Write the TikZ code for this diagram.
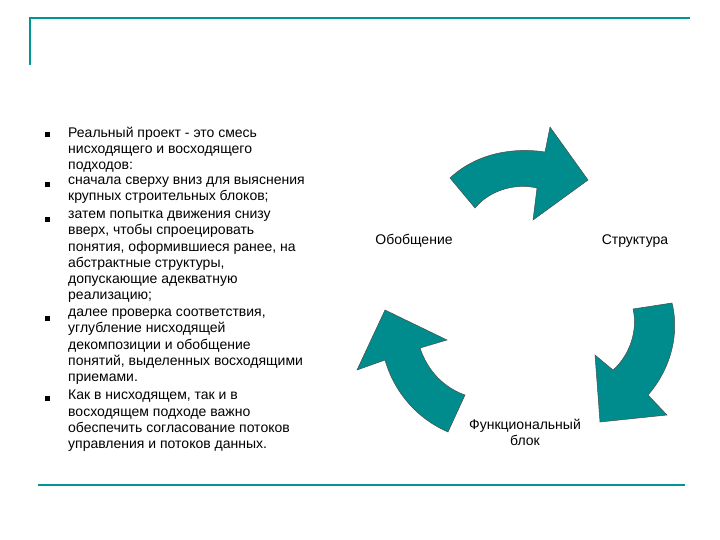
\documentclass[tikz,border=0pt]{standalone}
\usepackage{fontspec}
\setmainfont{Liberation Sans}
\usetikzlibrary{positioning}
\definecolor{tealfill}{RGB}{0,140,140}
\definecolor{tealline}{RGB}{0,150,150}
\tikzset{
    frame/.style={tealline, line width=2pt},
    cyclearrow/.style={fill=tealfill, draw=black!70, line width=0.5pt},
    label/.style={font=\fontsize{14}{16}\selectfont, inner sep=0pt},
    bulletbox/.style={fill=black, minimum size=5pt, inner sep=0pt},
    item/.style={font=\fontsize{14}{16.2}\selectfont, align=left, anchor=north west, inner sep=0pt}
}
\begin{document}
\begin{tikzpicture}[x=1pt, y=-1pt]
    \useasboundingbox (0,0) rectangle (720,540);
    % frame lines
    \draw[frame] (30,65) -- (30,18) -- (690,18);
    \draw[frame] (38,485) -- (685,485);
    % text items
    \node[item] (t1) at (68,127) {Реальный проект - это смесь\\нисходящего и восходящего\\подходов:};
    \node[item] (t2) at (68,177) {сначала сверху вниз для выяснения\\крупных строительных блоков;};
    \node[item] (t3) at (68,211) {затем попытка движения снизу\\вверх, чтобы спроецировать\\понятия, оформившиеся ранее, на\\абстрактные структуры,\\допускающие адекватную\\реализацию;};
    \node[item] (t4) at (68,309) {далее проверка соответствия,\\углубление нисходящей\\декомпозиции и обобщение\\понятий, выделенных восходящими\\приемами.};
    \node[item] (t5) at (68,390) {Как в нисходящем, так и в\\восходящем подходе важно\\обеспечить согласование потоков\\управления и потоков данных.};
    \foreach \y/\n in {135/1,185/2,220/3,318/4,398/5}
        \node[bulletbox] (b\n) at (47,\y) {};
    % cycle labels
    \node[label] (gen) at (414,241) {Обобщение};
    \node[label] (str) at (635,241) {Структура};
    \node[label, align=center] (fun) at (525,432) {Функциональный\\блок};
    % arrows
    \draw[cyclearrow] (450,178) .. controls (480,150) and (520,148) .. (545,152)
        -- (550,127) -- (588,180) -- (533,220) -- (537,188)
        .. controls (515,183) and (490,190) .. (475,208) -- cycle;
    \draw[cyclearrow] (672,303) .. controls (680,335) and (670,370) .. (648,395)
        -- (667,415) -- (600,422) -- (595,355) -- (613,370)
        .. controls (630,355) and (638,330) .. (633,309) -- cycle;
    \draw[cyclearrow] (448,432) .. controls (420,420) and (395,395) .. (385,360)
        -- (357,370) -- (385,310) -- (447,340) -- (420,348)
        .. controls (428,372) and (445,388) .. (465,395) -- cycle;
\end{tikzpicture}
\end{document}
